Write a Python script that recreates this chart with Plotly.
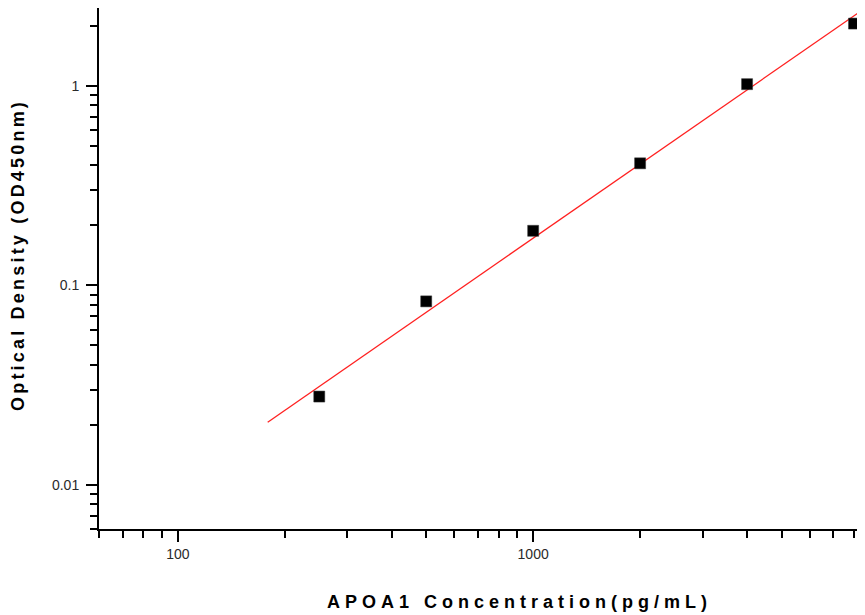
import plotly.graph_objects as go

# Standard curve data
conc = [250, 500, 1000, 2000, 4000, 8000]
od = [0.0277, 0.0832, 0.188, 0.410, 1.023, 2.06]

# Fitted line end points
fit_x = [179, 8700]
fit_y = [0.0206, 2.50]

x_major = [100, 1000]
x_minor = [60, 70, 80, 90, 200, 300, 400, 500, 600, 700, 800, 900,
           2000, 3000, 4000, 5000, 6000, 7000, 8000]
y_major = [0.01, 0.1, 1]
y_major_text = ["0.01", "0.1", "1"]
y_minor = [0.006, 0.007, 0.008, 0.009, 0.02, 0.03, 0.04, 0.05, 0.06, 0.07,
           0.08, 0.09, 0.2, 0.3, 0.4, 0.5, 0.6, 0.7, 0.8, 0.9, 2]

x_title = "APOA1 Concentration(pg/mL)"
y_title = "Optical Density (OD450nm)"

# page has an 8px body margin, so the figure is drawn 8px smaller
W, H = 857, 607
L, T, B = 91, 0, 86
PW, PH = W - L, H - T - B

fig = go.Figure()
fig.add_trace(go.Scatter(x=fit_x, y=fit_y, mode="lines",
                         line=dict(color="#ff2020", width=1.3),
                         showlegend=False, hoverinfo="skip"))
fig.add_trace(go.Scatter(x=conc, y=od, mode="markers",
                         marker=dict(symbol="square", size=11, color="black",
                                     line=dict(color="#333", width=0.5)),
                         showlegend=False))

tickfont = dict(family="Liberation Sans, Arial, sans-serif", size=14, color="#2a2a2a")
titlefont = dict(family="Liberation Sans, Arial, sans-serif", size=18, color="black")
fig.update_layout(
    width=W, height=H,
    margin=dict(l=L, r=0, t=T, b=B),
    plot_bgcolor="white", paper_bgcolor="white",
    xaxis=dict(type="log", range=[1.778, 3.934],
               tickmode="array", tickvals=x_major, ticktext=["100", "1000"],
               ticks="outside", ticklen=11, tickwidth=1.5, tickcolor="black",
               showline=True, linecolor="black", linewidth=2,
               showgrid=False, zeroline=False, tickfont=tickfont,
               minor=dict(tickmode="array", tickvals=x_minor, ticks="outside",
                          ticklen=7, tickwidth=1.5, tickcolor="black", showgrid=False)),
    yaxis=dict(type="log", range=[-2.222, 0.392],
               tickmode="array", tickvals=y_major, ticktext=y_major_text,
               ticks="outside", ticklen=11, tickwidth=1.5, tickcolor="black",
               showline=True, linecolor="black", linewidth=2,
               showgrid=False, zeroline=False, tickfont=tickfont,
               ticklabelstandoff=4,
               minor=dict(tickmode="array", tickvals=y_minor, ticks="outside",
                          ticklen=7, tickwidth=1.5, tickcolor="black", showgrid=False)),
    annotations=[
        dict(text="<b>" + x_title + "</b>", xref="paper", yref="paper",
             x=(519 - 8 - L) / PW, y=-(594 - (H - B)) / PH,
             xanchor="center", yanchor="middle", showarrow=False, font=titlefont),
        dict(text="<b>" + y_title + "</b>", xref="paper", yref="paper",
             x=-(L - 10) / PW, y=((H - B) - 247) / PH, xanchor="center", yanchor="middle",
             textangle=-90, showarrow=False, font=titlefont),
    ],
)

spacing_js = """
var ann = document.querySelectorAll('.annotation-text');
if (ann.length > 0) { ann[0].setAttribute('letter-spacing', '5px'); }
if (ann.length > 1) { ann[1].setAttribute('letter-spacing', '3.2px'); }
"""
fig.write_html("out.html", post_script=spacing_js)
